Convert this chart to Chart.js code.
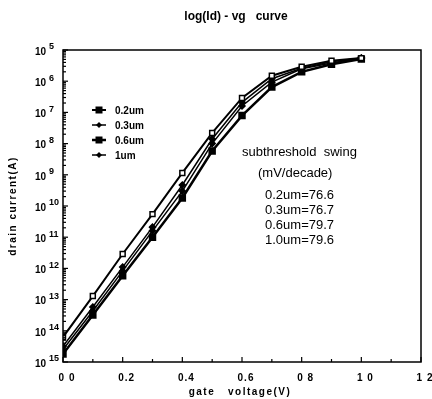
<!DOCTYPE html>
<html>
<head>
<meta charset="utf-8">
<script src="https://cdn.jsdelivr.net/npm/chart.js@4"></script>
<style>
  html, body { margin: 0; padding: 0; background: #fff; }
  #wrap { width: 432px; height: 399px; }
</style>
</head>
<body>
<div id="wrap"><canvas id="c" width="432" height="399"></canvas></div>
<script>
// gate voltage (V)
const vg = [0, 0.1, 0.2, 0.3, 0.4, 0.5, 0.6, 0.7, 0.8, 0.9, 1.0];
// drain current (A) per channel length
const id02 = [6.3e-15, 1.3e-13, 2.9e-12, 5.5e-11, 1.15e-9, 2.2e-8, 2.9e-7, 1.5e-6, 2.9e-6, 4.5e-6, 5.5e-6];
const id03 = [3.2e-15, 5.8e-14, 1.1e-12, 2.1e-11, 4.7e-10, 1.4e-8, 2.1e-7, 1.2e-6, 2.6e-6, 4.2e-6, 5.5e-6];
const id06 = [1.8e-15, 3.2e-14, 5.8e-13, 1.0e-11, 1.8e-10, 5.8e-9, 7.9e-8, 6.5e-7, 2.0e-6, 3.5e-6, 5.1e-6];
const id10 = [2.5e-15, 4.3e-14, 8.3e-13, 1.6e-11, 3.0e-10, 1.0e-8, 1.6e-7, 9.3e-7, 2.5e-6, 3.8e-6, 5.5e-6];
const seriesNames = ['0.2um', '0.3um', '0.6um', '1um'];

const xTicks = [0, 0.2, 0.4, 0.6, 0.8, 1.0, 1.2];
const xTickLabels = ['0 0', '0.2', '0.4', '0.6', '0 8', '1 0', '1 2'];
const yTickLabels = ['5', '6', '7', '8', '9', '10', '11', '12', '13', '14', '15'];

const swingNames = ['0.2um', '0.3um', '0.6um', '1.0um'];
const swingValues = [76.6, 76.7, 79.7, 79.6];

const FONT = '"Liberation Sans", Arial, sans-serif';

const toPoints = (ys) => vg.map((x, i) => ({ x, y: ys[i] }));

const decor = {
  id: 'decor',
  afterDraw(chart) {
    const { ctx, chartArea: { left, top, right, bottom }, scales: { x, y } } = chart;
    ctx.save();
    ctx.strokeStyle = '#000';
    ctx.fillStyle = '#000';

    // frame
    ctx.lineWidth = 1.5;
    ctx.strokeRect(left, top, right - left, bottom - top);

    // x ticks, pointing in
    ctx.lineWidth = 1.2;
    for (let i = 0; i <= 12; i++) {
      const px = x.getPixelForValue(i / 10);
      const len = i % 2 === 0 ? 5 : 3;
      ctx.beginPath();
      ctx.moveTo(px, bottom);
      ctx.lineTo(px, bottom - len);
      ctx.stroke();
    }
    // x tick labels
    ctx.font = 'bold 10px ' + FONT;
    ctx.letterSpacing = '1px';
    ctx.textAlign = 'center';
    ctx.textBaseline = 'middle';
    xTicks.forEach((v, i) => {
      ctx.fillText(xTickLabels[i], x.getPixelForValue(v) + 4, bottom + 16);
    });
    ctx.letterSpacing = '0px';

    // y ticks with log minors, and labels 10^n
    ctx.lineWidth = 1.2;
    yTickLabels.forEach((lab, i) => {
      const v = Math.pow(10, -5 - i);
      const py = y.getPixelForValue(v);
      ctx.beginPath();
      ctx.moveTo(left, py);
      ctx.lineTo(left + 5, py);
      ctx.stroke();
      if (i < yTickLabels.length - 1) {
        for (let m = 2; m <= 9; m++) {
          const pm = y.getPixelForValue(v / 10 * m);
          ctx.beginPath();
          ctx.moveTo(left, pm);
          ctx.lineTo(left + 3, pm);
          ctx.stroke();
        }
      }
      ctx.font = 'bold 10px ' + FONT;
      ctx.textAlign = 'right';
      ctx.textBaseline = 'middle';
      ctx.fillText('10', 46, py + 2);
      ctx.font = 'bold 9px ' + FONT;
      ctx.textAlign = 'left';
      ctx.fillText(lab, 49, py - 3);
    });

    // axis titles
    ctx.font = 'bold 10px ' + FONT;
    ctx.letterSpacing = '1.5px';
    ctx.textAlign = 'center';
    ctx.textBaseline = 'middle';
    ctx.fillText('gate   voltage(V)', 240, 392);
    ctx.save();
    ctx.translate(13, 206);
    ctx.rotate(-Math.PI / 2);
    ctx.fillText('drain current(A)', 0, 0);
    ctx.restore();
    ctx.letterSpacing = '0px';

    // chart title
    ctx.font = 'bold 12px ' + FONT;
    ctx.fillText('log(Id) - vg   curve', 236, 17);

    // legend
    chart.data.datasets.forEach((ds, i) => {
      const ly = 110 + i * 15;
      ctx.lineWidth = ds.borderWidth;
      ctx.beginPath();
      ctx.moveTo(92, ly);
      ctx.lineTo(106, ly);
      ctx.stroke();
      const r = ds.pointRadius;
      ctx.beginPath();
      if (ds.pointStyle === 'rectRot') {
        ctx.moveTo(99, ly - r); ctx.lineTo(99 + r, ly); ctx.lineTo(99, ly + r); ctx.lineTo(99 - r, ly);
        ctx.closePath();
      } else {
        ctx.rect(99 - r, ly - r, 2 * r, 2 * r);
      }
      ctx.fill();
      ctx.font = 'bold 10px ' + FONT;
      ctx.textAlign = 'left';
      ctx.fillText(ds.label, 115, ly + 1);
    });

    // subthreshold swing annotation
    ctx.font = '13px ' + FONT;
    ctx.textAlign = 'left';
    ctx.fillText('subthreshold  swing', 242, 152);
    ctx.fillText('(mV/decade)', 258, 173);
    swingNames.forEach((n, i) => {
      ctx.fillText(n + '=' + swingValues[i].toFixed(1), 265, 195 + i * 15);
    });
    ctx.restore();
  },
};

new Chart(document.getElementById('c'), {
  type: 'line',
  data: {
    datasets: [
      { label: seriesNames[0], data: toPoints(id02), borderColor: '#000', borderWidth: 2,
        pointStyle: 'rect', pointRadius: 3.5, pointBackgroundColor: '#fff', pointBorderColor: '#000', pointBorderWidth: 1.5 },
      { label: seriesNames[1], data: toPoints(id03), borderColor: '#000', borderWidth: 1.5,
        pointStyle: 'rectRot', pointRadius: 3, pointBackgroundColor: '#000', pointBorderColor: '#000' },
      { label: seriesNames[2], data: toPoints(id06), borderColor: '#000', borderWidth: 2.5,
        pointStyle: 'rect', pointRadius: 3.5, pointBackgroundColor: '#000', pointBorderColor: '#000' },
      { label: seriesNames[3], data: toPoints(id10), borderColor: '#000', borderWidth: 1.5,
        pointStyle: 'rectRot', pointRadius: 3, pointBackgroundColor: '#000', pointBorderColor: '#000' },
    ],
  },
  options: {
    animation: false,
    responsive: false,
    layout: { padding: { top: 50, right: 11, left: 0, bottom: 0 } },
    plugins: { legend: { display: false }, title: { display: false }, tooltip: { enabled: false } },
    scales: {
      x: {
        type: 'linear',
        min: 0,
        max: 1.2,
        grid: { display: false, drawTicks: false },
        border: { display: false },
        ticks: { display: false },
        afterFit: (s) => { s.height = 37; },
      },
      y: {
        type: 'logarithmic',
        min: 1e-15,
        max: 1e-5,
        grid: { display: false, drawTicks: false },
        border: { display: false },
        ticks: { display: false },
        afterFit: (s) => { s.width = 63; },
      },
    },
  },
  plugins: [decor],
});
</script>
</body>
</html>
